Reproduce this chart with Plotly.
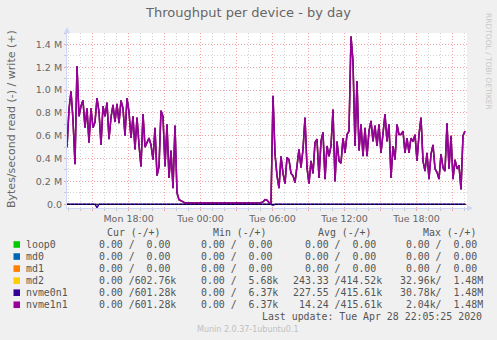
import pandas as pd
import plotly.graph_objects as go

# ---------------- data (values in M bytes/second) ----------------
sample_start = "2020-04-27 12:52"
sample_step = "10min"
x_range = ["2020-04-27 12:52", "2020-04-28 22:12"]
y_range = [-0.033, 1.5]

# write (+) throughput of nvme1n1; md2 and nvme0n1 lie on top of it in the picture
write_nvme1n1 = [
    0.50, 0.83, 0.99, 0.74, 0.35, 1.21, 0.77, 0.86, 0.91, 0.67,
    0.84, 0.54, 0.84, 0.67, 0.72, 0.93, 0.81, 0.52, 0.86, 0.77,
    0.89, 0.57, 0.76, 0.87, 0.72, 0.88, 0.71, 0.91, 0.84, 0.60,
    0.93, 0.81, 0.58, 0.77, 0.48, 0.76, 0.52, 0.33, 0.79, 0.50,
    0.54, 0.58, 0.52, 0.39, 0.67, 0.25, 0.33, 0.82, 0.77, 0.33,
    0.70, 0.23, 0.47, 0.14, 0.69, 0.10, 0.04, 0.03, 0.02, 0.012,
    0.011, 0.010, 0.010, 0.011, 0.010, 0.010, 0.009, 0.010, 0.010, 0.011,
    0.010, 0.010, 0.009, 0.010, 0.010, 0.010, 0.011, 0.010, 0.009, 0.010,
    0.010, 0.010, 0.010, 0.011, 0.010, 0.010, 0.009, 0.010, 0.010, 0.010,
    0.010, 0.011, 0.010, 0.010, 0.010, 0.010, 0.012, 0.014, 0.020, 0.040,
    0.035, 0.015, 0.012, 0.95, 0.44, 0.25, 0.14, 0.42, 0.27, 0.18,
    0.41, 0.39, 0.27, 0.25, 0.19, 0.35, 0.48, 0.32, 0.48, 0.76,
    0.32, 0.18, 0.38, 0.27, 0.54, 0.57, 0.23, 0.55, 0.63, 0.22,
    0.51, 0.42, 0.51, 0.83, 0.20, 0.55, 0.38, 0.36, 0.58, 0.45,
    0.61, 0.64, 1.47, 1.25, 0.51, 1.08, 0.47, 0.70, 0.42, 0.67,
    0.42, 0.64, 0.73, 0.55, 0.69, 0.51, 0.70, 0.45, 0.62, 0.79,
    0.55, 0.70, 0.23, 0.51, 0.39, 0.70, 0.61, 0.61, 0.64, 0.45,
    0.58, 0.45, 0.58, 0.55, 0.61, 0.38, 0.61, 0.76, 0.38, 0.29,
    0.45, 0.22, 0.44, 0.52, 0.31, 0.28, 0.22, 0.44, 0.32, 0.29,
    0.71, 0.31, 0.60, 0.22, 0.39, 0.31, 0.34, 0.13, 0.60, 0.64,
]
write_nvme0n1 = list(write_nvme1n1)
write_md2 = list(write_nvme1n1)

# read (-) of nvme0n1: flat zero with a few small dips
read_nvme0n1 = ([0.0] * 15 + [-0.03] + [0.0] * 87 + [-0.008] + [0.0] * 15
                + [-0.005] + [0.0] * 70 + [-0.006] + [0.0] * 9)

x_tick_times = ["2020-04-27 15:00", "2020-04-27 18:00", "2020-04-27 21:00",
                "2020-04-28 00:00", "2020-04-28 03:00", "2020-04-28 06:00",
                "2020-04-28 09:00", "2020-04-28 12:00", "2020-04-28 15:00",
                "2020-04-28 18:00", "2020-04-28 21:00"]
x_tick_text = ["", "Mon 18:00", "", "Tue 00:00", "", "Tue 06:00", "",
               "Tue 12:00", "", "Tue 18:00", ""]
y_tick_vals = [0.0, 0.2, 0.4, 0.6, 0.8, 1.0, 1.2, 1.4]
y_tick_text = ["0.0", "0.2 M", "0.4 M", "0.6 M", "0.8 M", "1.0 M", "1.2 M", "1.4 M"]

legend_names = ["loop0", "md0", "md1", "md2", "nvme0n1", "nvme1n1"]
legend_colors = ["#00CC00", "#0066B3", "#FF8000", "#FFCC00", "#330099", "#990099"]
cur_text = ["0.00 /  0.00", "0.00 /  0.00", "0.00 /  0.00",
            "0.00 /602.76k", "0.00 /601.28k", "0.00 /601.28k"]
min_text = ["0.00 /  0.00", "0.00 /  0.00", "0.00 /  0.00",
            "0.00 /  5.68k", "0.00 /  6.37k", "0.00 /  6.37k"]
avg_text = ["  0.00 /  0.00", "  0.00 /  0.00", "  0.00 /  0.00",
            "243.33 /414.52k", "227.55 /415.61k", " 14.24 /415.61k"]
max_text = ["  0.00 /  0.00", "  0.00 /  0.00", "  0.00 /  0.00",
            " 32.96k/  1.48M", " 30.78k/  1.48M", "  2.04k/  1.48M"]
headers = ["Cur (-/+)", "Min (-/+)", "Avg (-/+)", "Max (-/+)"]
title_text = "Throughput per device - by day"
y_title = "Bytes/second read (-) / write (+)"
last_update = "Last update: Tue Apr 28 22:05:25 2020"
munin_version = "Munin 2.0.37-1ubuntu0.1"
rrd_credit = "RRDTOOL / TOBI OETIKER"

# ---------------- layout geometry ----------------
W_FIG, H_FIG = 497, 340
L, T, W, H = 67, 33, 400, 175


def px_x(x):
    return (x - L) / W


def px_y(y):
    return (T + H - y) / H


times = pd.date_range(sample_start, periods=len(write_nvme1n1), freq=sample_step)

FONT = "DejaVu Sans"
MONO = "DejaVu Sans Mono"
FONT_COLOR = "#666666"
AXIS_COLOR = "#CFD6F8"
MINOR_GRID = "#d2d2d2"
MAJOR_GRID = "#f3a3a3"

fig = go.Figure()
fig.add_trace(go.Scatter(x=times, y=write_md2, mode="lines",
                         line=dict(color="#FFCC00", width=1.5), hoverinfo="skip"))
fig.add_trace(go.Scatter(x=times, y=read_nvme0n1, mode="lines",
                         line=dict(color="#330099", width=1.5), hoverinfo="skip"))
fig.add_trace(go.Scatter(x=times, y=write_nvme0n1, mode="lines",
                         line=dict(color="#330099", width=1.5), hoverinfo="skip"))
fig.add_trace(go.Scatter(x=times, y=write_nvme1n1, mode="lines",
                         line=dict(color="#990099", width=1.5), hoverinfo="skip"))

fig.update_layout(
    width=W_FIG, height=H_FIG, autosize=False,
    margin=dict(l=L, r=W_FIG - L - W, t=T, b=H_FIG - T - H, pad=0),
    paper_bgcolor="#F0F0F0", plot_bgcolor="#FFFFFF",
    showlegend=False,
    font=dict(family=FONT, size=9.5, color=FONT_COLOR),
)

fig.update_xaxes(
    type="date", range=x_range, fixedrange=True,
    tickmode="array", tickvals=x_tick_times, ticktext=x_tick_text,
    showgrid=True, gridcolor=MAJOR_GRID, griddash="1px,2px", gridwidth=1,
    ticks="outside", ticklen=2, tickcolor=MAJOR_GRID,
    showline=True, linecolor=AXIS_COLOR, linewidth=1,
    tickfont=dict(family=FONT, size=9.5, color=FONT_COLOR),
    minor=dict(tickmode="linear", tick0="2020-04-27 00:00", dtick=3600000,
               showgrid=True, gridcolor=MINOR_GRID, griddash="1px,2px", gridwidth=1,
               ticks="outside", ticklen=2, tickcolor="#c8c8c8"),
    zeroline=False,
)
fig.update_yaxes(
    range=y_range, fixedrange=True,
    tickmode="array", tickvals=y_tick_vals, ticktext=y_tick_text,
    showgrid=True, gridcolor=MAJOR_GRID, griddash="1px,2px", gridwidth=1,
    ticks="outside", ticklen=2, tickcolor=MAJOR_GRID,
    showline=True, linecolor=AXIS_COLOR, linewidth=1,
    tickfont=dict(family=FONT, size=9.5, color=FONT_COLOR),
    minor=dict(tickmode="linear", tick0=0, dtick=0.1,
               showgrid=True, gridcolor=MINOR_GRID, griddash="1px,2px", gridwidth=1,
               ticks="outside", ticklen=2, tickcolor="#c8c8c8"),
    zeroline=False,
)

shapes = []
# black zero rule drawn above the series (as in the munin graph)
shapes.append(dict(type="line", xref="paper", yref="y", x0=0, x1=1, y0=0, y1=0,
                   line=dict(color="#000000", width=1.2, dash="3px,1px"), layer="above"))
# axis arrows
shapes.append(dict(type="path", xref="paper", yref="paper",
                   path=f"M {px_x(64)},{px_y(33)} L {px_x(67)},{px_y(27)} L {px_x(70)},{px_y(33)} Z",
                   fillcolor=AXIS_COLOR, line=dict(width=0)))
shapes.append(dict(type="path", xref="paper", yref="paper",
                   path=f"M {px_x(467)},{px_y(205)} L {px_x(473)},{px_y(208)} L {px_x(467)},{px_y(211)} Z",
                   fillcolor=AXIS_COLOR, line=dict(width=0)))

annotations = []


def add_text(x, y, text, size=9.9, family=MONO, color="#555555", xanchor="left",
             textangle=0):
    annotations.append(dict(
        x=px_x(x), y=px_y(y), xref="paper", yref="paper",
        text=text.replace(" ", "\u00a0"), showarrow=False,
        xanchor=xanchor, yanchor="middle", textangle=textangle,
        font=dict(family=family, size=size, color=color),
        borderpad=0, borderwidth=0,
    ))


# title, axis title, credits
add_text(248, 13, title_text, size=13, family=FONT, color=FONT_COLOR, xanchor="center")
add_text(11, 119, y_title, size=11, family=FONT, color=FONT_COLOR, xanchor="center",
         textangle=-90)
add_text(489, 61, rrd_credit, size=7.5, family=FONT, color="#c8c8c8", xanchor="center",
         textangle=90)

# legend table
header_x = [107, 212.7, 318.3, 422.7]
for hx, htxt in zip(header_x, headers):
    add_text(hx, 232.7, htxt)

row0, row_step = 244.5, 12.05
for k, name in enumerate(legend_names):
    ry = row0 + k * row_step
    shapes.append(dict(type="rect", xref="paper", yref="paper",
                       x0=px_x(13.5), x1=px_x(20), y0=px_y(ry - 3.3), y1=px_y(ry + 3.3),
                       fillcolor=legend_colors[k], line=dict(width=0)))
    add_text(26, ry, name)
    add_text(99.3, ry, cur_text[k])
    add_text(201.3, ry, min_text[k])
    add_text(292.5, ry, avg_text[k])
    add_text(394, ry, max_text[k])

add_text(261.7, 316.7, last_update)
add_text(248, 329, munin_version, size=8, family=FONT, color="#c0c0c0", xanchor="center")

fig.update_layout(shapes=shapes, annotations=annotations)

fig.write_html("out.html", config={"displayModeBar": False, "staticPlot": True})
